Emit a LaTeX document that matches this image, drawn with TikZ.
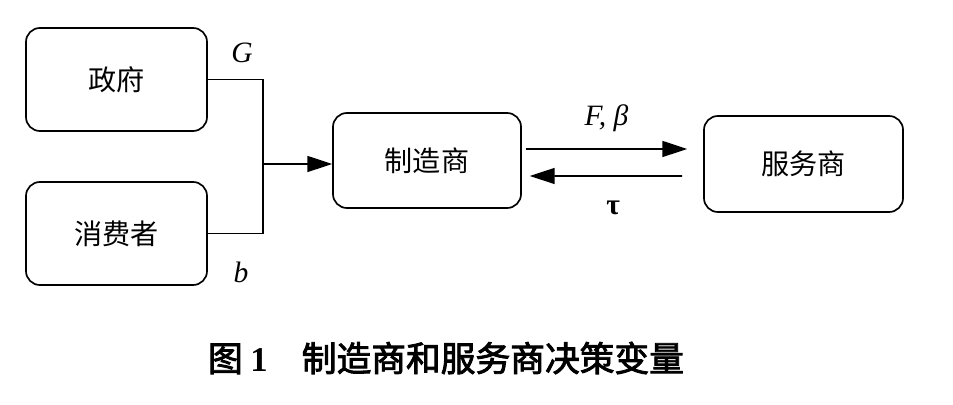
\documentclass[tikz,border=0pt]{standalone}
\usepackage{amsmath}
\usepackage{fontspec}
\usepackage{tikz}
\usetikzlibrary{arrows.meta}
\newfontfamily\cjk{Noto Sans CJK SC}
\newfontfamily\capfont[FakeBold=2.5]{Noto Sans CJK SC}
\newfontfamily\tms{Liberation Serif}

\begin{document}
\begin{tikzpicture}[x=0.025cm, y=-0.025cm]
\tikzset{box/.style={draw, line width=1.2pt, rounded corners=0.35cm, font=\cjk\fontsize{20}{24}\selectfont}}
\tikzset{lbl/.style={font=\tms\fontsize{21}{24}\selectfont}}
\tikzset{flow/.style={line width=1.1pt, -{Triangle[length=0.62cm,width=0.4cm]}}}
\useasboundingbox (0,0) rectangle (953,405);
\node[box, minimum width=4.525cm, minimum height=2.575cm] (gov) at (116.5,79.5) {政府};
\node[box, minimum width=4.525cm, minimum height=2.575cm] (cons) at (116.5,233.5) {消费者};
\node[box, minimum width=4.7cm, minimum height=2.375cm] (mfr) at (427,160.5) {制造商};
\node[box, minimum width=4.975cm, minimum height=2.4cm] (svc) at (803.5,164) {服务商};
\coordinate (join) at (263,164);
\draw[line width=1.1pt] (gov.east) -| (join) |- (cons.east);
\draw[flow] (join) -- (join -| mfr.west);
\node[lbl] (G) at (242,53) {\itshape G};
\node[lbl] (b) at (241,272) {\itshape b};
% upper and lower flows between the two firms
\draw[flow] ([shift={(4,-11.5)}]mfr.east) -- ([shift={(-16,-15)}]svc.west)
  node[lbl, midway, yshift=0.775cm] (Fb) {\itshape F, β};
\draw[flow] ([shift={(-21,12)}]svc.west) -- ([shift={(8,15.5)}]mfr.east)
  node[lbl, midway, xshift=0.18cm, yshift=-0.8cm] (tau) {\bfseries τ};
\node[anchor=west, font=\capfont\fontsize{24.7}{28}\selectfont] (cap) at (203,358) {图 {\tms\bfseries 1}\hspace{0.85cm}制造商和服务商决策变量};
\end{tikzpicture}
\end{document}
